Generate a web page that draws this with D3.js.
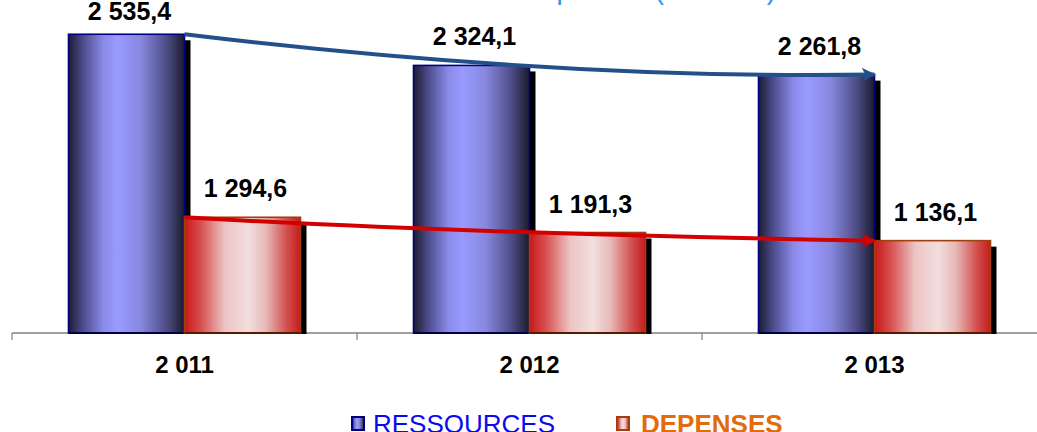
<!DOCTYPE html>
<html>
<head>
<meta charset="utf-8">
<script src="https://cdn.jsdelivr.net/npm/d3@7"></script>
<style>
  html, body { margin: 0; padding: 0; background: #fff; }
  svg { display: block; font-family: "Liberation Sans", Arial, sans-serif; }
</style>
</head>
<body>
<svg id="chart" width="1037" height="432"></svg>
<script>
// Budget data (values in the same unit as the title)
const years = ["2 011", "2 012", "2 013"];
const ressources = [2535.4, 2324.1, 2261.8];
const depenses = [1294.6, 1191.3, 1136.1];
const seriesNames = ["RESSOURCES", "DEPENSES"];
const yDomain = [510, 3000];

const fmt = v => {
  const [i, d] = v.toFixed(1).split(".");
  return i.replace(/\B(?=(\d{3})+(?!\d))/g, " ") + "," + d;
};

const W = 1037, H = 432;
const svg = d3.select("#chart");
const defs = svg.append("defs");

// Horizontal cylinder-like gradients for both series
function hGrad(id, stops) {
  const g = defs.append("linearGradient").attr("id", id)
    .attr("x1", "0%").attr("x2", "100%").attr("y1", "0%").attr("y2", "0%");
  stops.forEach(([o, c]) => g.append("stop").attr("offset", o).attr("stop-color", c));
}
hGrad("gRes", [["0%", "#1c1c30"], ["12%", "#4a4a88"], ["30%", "#8a8ae8"], ["42%", "#9a9aff"], ["62%", "#8888e0"], ["85%", "#4c4c84"], ["100%", "#1a1a2e"]]);
hGrad("gDep", [["0%", "#c81818"], ["15%", "#d85454"], ["35%", "#ecc4c4"], ["55%", "#f2dede"], ["70%", "#e8b8b8"], ["88%", "#d25050"], ["100%", "#c41c1c"]]);

// Scales
const axisY = 333;
const x = d3.scaleBand().domain(years).range([12, 12 + 345 * 3]);
const y = d3.scaleLinear().domain(yDomain).range([axisY, axisY - 0.1475 * (yDomain[1] - yDomain[0])]);
const barW = 116;

// Title (largely above the visible area)
svg.append("text")
  .attr("x", 776).attr("y", -1)
  .attr("text-anchor", "end")
  .attr("fill", "#3b8fdc")
  .attr("font-size", 28)
  .text("Ressources et dépenses (en MDH)");

// Category axis
svg.append("line")
  .attr("x1", 12).attr("x2", W).attr("y1", axisY).attr("y2", axisY)
  .attr("stroke", "#808080").attr("stroke-width", 1.6);
const tickXs = years.map(c => x(c)).concat([x.range()[1]]);
svg.selectAll(".tick").data(tickXs).enter().append("line")
  .attr("x1", d => d).attr("x2", d => d)
  .attr("y1", axisY).attr("y2", axisY + 7)
  .attr("stroke", "#808080").attr("stroke-width", 1.2);
svg.selectAll(".xlab").data(years).enter().append("text")
  .attr("x", d => x(d) + x.bandwidth() / 2)
  .attr("y", 373)
  .attr("text-anchor", "middle")
  .attr("font-size", 24).attr("font-weight", "bold").attr("fill", "#000")
  .text(d => d);

// Bars
const series = [
  { key: "res", values: ressources, fill: "url(#gRes)", stroke: "#000080", bottom: "#000050", offset: -barW },
  { key: "dep", values: depenses, fill: "url(#gDep)", stroke: "#a0400c", bottom: "#5a1a00", offset: 0 }
];

series.forEach(s => {
  const g = svg.append("g");
  const bx = (d, i) => x(years[i]) + x.bandwidth() / 2 + s.offset;
  // drop shadow on the right side
  g.selectAll(".sh").data(s.values).enter().append("rect")
    .attr("x", (d, i) => bx(d, i) + 6)
    .attr("y", d => y(d) + 6)
    .attr("width", barW)
    .attr("height", d => axisY - y(d) - 5)
    .attr("fill", "#000");
  g.selectAll(".bar").data(s.values).enter().append("rect")
    .attr("x", bx)
    .attr("y", d => y(d))
    .attr("width", barW)
    .attr("height", d => axisY - y(d))
    .attr("fill", s.fill)
    .attr("stroke", s.stroke).attr("stroke-width", 1.6);
  g.selectAll(".bot").data(s.values).enter().append("line")
    .attr("x1", bx).attr("x2", (d, i) => bx(d, i) + barW)
    .attr("y1", axisY).attr("y2", axisY)
    .attr("stroke", s.bottom).attr("stroke-width", 2);
  g.selectAll(".lab").data(s.values).enter().append("text")
    .attr("x", (d, i) => bx(d, i) + barW / 2 + 3)
    .attr("y", d => Math.max(20, y(d) - 20))
    .attr("text-anchor", "middle")
    .attr("font-size", 25).attr("font-weight", "bold").attr("fill", "#000")
    .text(d => fmt(d));
});

// Trend arrows from first to last year
function arrowMarker(id, color) {
  defs.append("marker").attr("id", id)
    .attr("viewBox", "0 0 10 10").attr("refX", 9).attr("refY", 5)
    .attr("markerUnits", "userSpaceOnUse")
    .attr("markerWidth", 16).attr("markerHeight", 14)
    .attr("orient", "auto")
    .append("path").attr("d", "M0,0 L10,5 L0,10 L2.5,5 Z").attr("fill", color);
}
arrowMarker("aBlue", "#24508a");
arrowMarker("aRed", "#d40000");

const xMid = x(years[0]) + x.bandwidth() / 2;
const xEnd = x(years[2]) + x.bandwidth() / 2;

const resPath = d3.path();
resPath.moveTo(xMid, y(ressources[0]));
resPath.quadraticCurveTo(560, y(ressources[2]) + 5, xEnd, y(ressources[2]));
svg.append("path").attr("d", resPath.toString())
  .attr("fill", "none").attr("stroke", "#24508a").attr("stroke-width", 4)
  .attr("marker-end", "url(#aBlue)");

const depPath = d3.path();
depPath.moveTo(xMid, y(depenses[0]));
depPath.quadraticCurveTo(470, y(depenses[2]) - 7, xEnd, y(depenses[2]));
svg.append("path").attr("d", depPath.toString())
  .attr("fill", "none").attr("stroke", "#d40000").attr("stroke-width", 4)
  .attr("marker-end", "url(#aRed)");

// Legend
const legend = [
  { name: seriesNames[0], fill: "url(#gRes)", stroke: "#000080", color: "#0a0aee", weight: "normal", x: 352, tx: 373 },
  { name: seriesNames[1], fill: "url(#gDep)", stroke: "#a0400c", color: "#e36c0a", weight: "bold", x: 617, tx: 641 }
];
const lg = svg.append("g");
lg.selectAll("rect").data(legend).enter().append("rect")
  .attr("x", d => d.x).attr("y", 417).attr("width", 12).attr("height", 13)
  .attr("fill", d => d.fill).attr("stroke", d => d.stroke).attr("stroke-width", 2);
lg.selectAll("text").data(legend).enter().append("text")
  .attr("x", d => d.tx).attr("y", 433)
  .attr("font-size", 26).attr("font-weight", d => d.weight).attr("fill", d => d.color)
  .text(d => d.name);
</script>
</body>
</html>
